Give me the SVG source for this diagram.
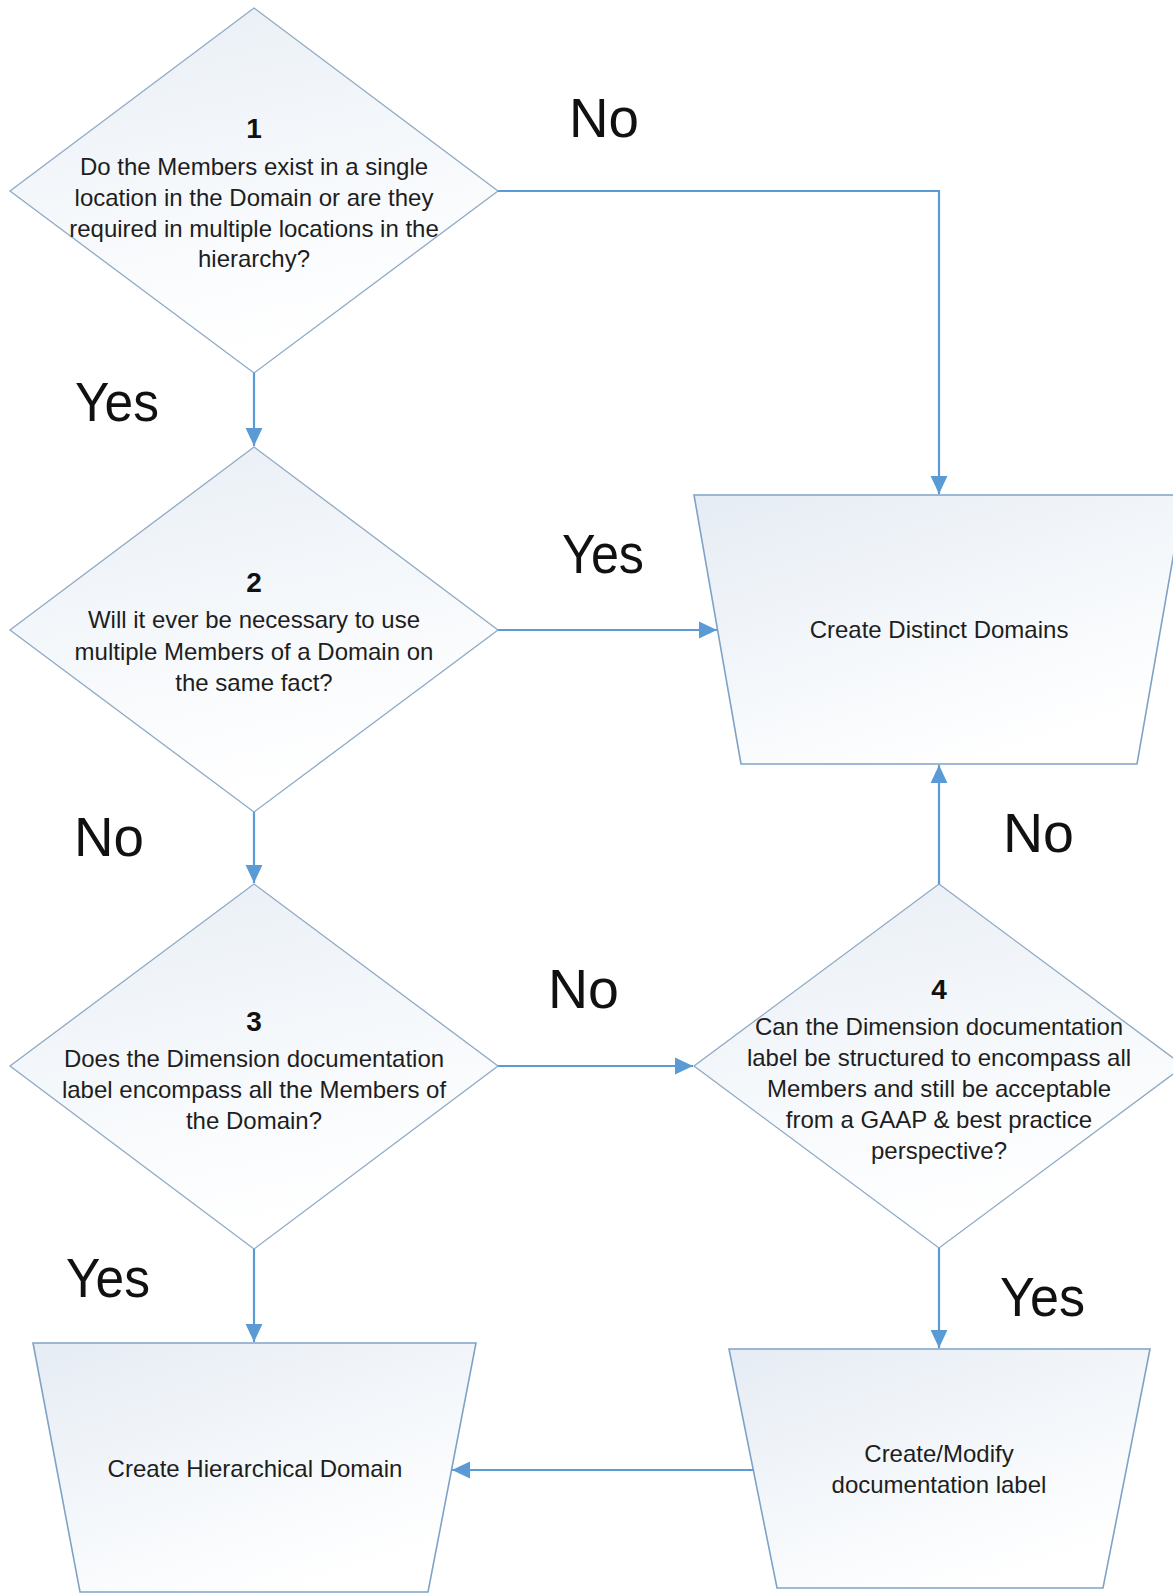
<svg xmlns="http://www.w3.org/2000/svg" width="1173" height="1593" viewBox="0 0 1173 1593">
<defs>
<linearGradient id="gDia" x1="0" y1="0" x2="0.3" y2="1">
<stop offset="0" stop-color="#E8EEF5"/>
<stop offset="0.55" stop-color="#F5F8FB"/>
<stop offset="1" stop-color="#FFFFFF"/>
</linearGradient>
<linearGradient id="gTrap" x1="0" y1="0" x2="0.6" y2="1">
<stop offset="0" stop-color="#E6ECF4"/>
<stop offset="0.6" stop-color="#F5F8FB"/>
<stop offset="1" stop-color="#FFFFFF"/>
</linearGradient>
<marker id="arr" markerUnits="userSpaceOnUse" markerWidth="18" markerHeight="18" viewBox="0 0 16 16" refX="16" refY="8" orient="auto">
<path d="M0,0.5 L16,8 L0,15.5 Z" fill="#5B9BD5"/>
</marker>
<style>
.dia{fill:url(#gDia);stroke:#8FAAC6;stroke-width:1.3}
.trap{fill:url(#gTrap);stroke:#7FA3C7;stroke-width:1.6}
.t{font-family:"Liberation Sans",Arial,sans-serif;font-size:24px;fill:#1E1E1E;text-anchor:middle}
.n{font-family:"Liberation Sans",Arial,sans-serif;font-size:28px;font-weight:bold;fill:#111;text-anchor:middle}
.big{font-family:"Liberation Sans",Arial,sans-serif;font-size:55px;fill:#111}
.c{fill:none;stroke:#5B9BD5;stroke-width:2.2}
</style>
</defs>
<rect width="1173" height="1593" fill="#FFFFFF"/>

<g id="node1">
<polygon class="dia" points="254,8 498,191 254,373 10,191"/>
<text class="n" x="254" y="138">1</text>
<text class="t" x="254" y="175">Do the Members exist in a single</text>
<text class="t" x="254" y="206">location in the Domain or are they</text>
<text class="t" x="254" y="237">required in multiple locations in the</text>
<text class="t" x="254" y="267">hierarchy?</text>
</g>

<g id="node2">
<polygon class="dia" points="254,447 498,630 254,812 10,630"/>
<text class="n" x="254" y="592">2</text>
<text class="t" x="254" y="628">Will it ever be necessary to use</text>
<text class="t" x="254" y="660">multiple Members of a Domain on</text>
<text class="t" x="254" y="691">the same fact?</text>
</g>

<g id="node3">
<polygon class="dia" points="254,884 498,1066 254,1249 10,1066"/>
<text class="n" x="254" y="1031">3</text>
<text class="t" x="254" y="1067">Does the Dimension documentation</text>
<text class="t" x="254" y="1098">label encompass all the Members of</text>
<text class="t" x="254" y="1129">the Domain?</text>
</g>

<g id="node4">
<polygon class="dia" points="939,884 1184,1066 939,1248 694,1066"/>
<text class="n" x="939" y="999">4</text>
<text class="t" x="939" y="1035">Can the Dimension documentation</text>
<text class="t" x="939" y="1066">label be structured to encompass all</text>
<text class="t" x="939" y="1097">Members and still be acceptable</text>
<text class="t" x="939" y="1128">from a GAAP &amp; best practice</text>
<text class="t" x="939" y="1159">perspective?</text>
</g>

<g id="distinct">
<polygon class="trap" points="694,495 1184,495 1137,764 741,764"/>
<text class="t" x="939" y="638">Create Distinct Domains</text>
</g>

<g id="hierarchical">
<polygon class="trap" points="33,1343 476,1343 428,1592 80,1592"/>
<text class="t" x="255" y="1477">Create Hierarchical Domain</text>
</g>

<g id="modify">
<polygon class="trap" points="729,1349 1150,1349 1103,1588 777,1588"/>
<text class="t" x="939" y="1462">Create/Modify</text>
<text class="t" x="939" y="1493">documentation label</text>
</g>

<g id="connectors">
<polyline class="c" points="498,191 939,191 939,494" marker-end="url(#arr)"/>
<line class="c" x1="254" y1="373" x2="254" y2="446" marker-end="url(#arr)"/>
<line class="c" x1="498" y1="630" x2="717" y2="630" marker-end="url(#arr)"/>
<line class="c" x1="254" y1="812" x2="254" y2="883" marker-end="url(#arr)"/>
<line class="c" x1="498" y1="1066" x2="693" y2="1066" marker-end="url(#arr)"/>
<line class="c" x1="939" y1="884" x2="939" y2="765" marker-end="url(#arr)"/>
<line class="c" x1="254" y1="1249" x2="254" y2="1342" marker-end="url(#arr)"/>
<line class="c" x1="939" y1="1248" x2="939" y2="1348" marker-end="url(#arr)"/>
<line class="c" x1="753" y1="1470" x2="452" y2="1470" marker-end="url(#arr)"/>
</g>

<g id="labels">
<text class="big" x="569" y="137" textLength="70" lengthAdjust="spacingAndGlyphs">No</text>
<text class="big" x="75" y="421" textLength="84" lengthAdjust="spacingAndGlyphs">Yes</text>
<text class="big" x="562" y="573" textLength="82" lengthAdjust="spacingAndGlyphs">Yes</text>
<text class="big" x="74" y="856" textLength="70" lengthAdjust="spacingAndGlyphs">No</text>
<text class="big" x="548" y="1008" textLength="71" lengthAdjust="spacingAndGlyphs">No</text>
<text class="big" x="1003" y="852" textLength="71" lengthAdjust="spacingAndGlyphs">No</text>
<text class="big" x="66" y="1297" textLength="84" lengthAdjust="spacingAndGlyphs">Yes</text>
<text class="big" x="1000" y="1316" textLength="85" lengthAdjust="spacingAndGlyphs">Yes</text>
</g>
</svg>
